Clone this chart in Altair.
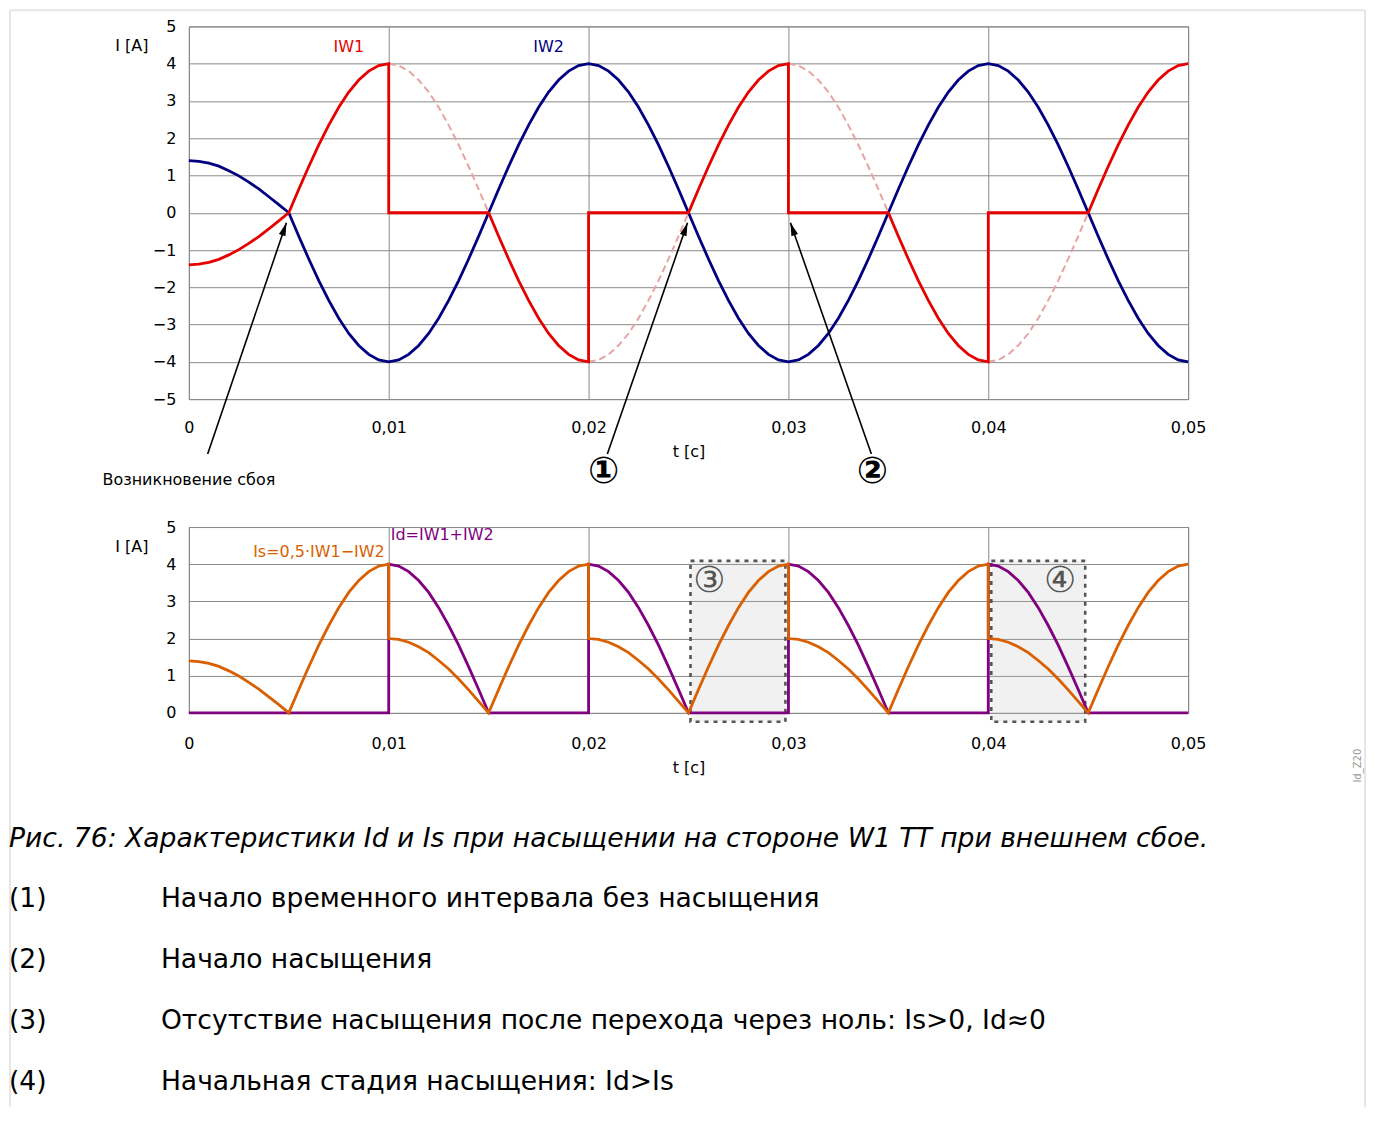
import math
import altair as alt
import pandas as pd

FONT = "DejaVu Sans"

# ---------------- data ----------------
T = [0.0000, 0.0005, 0.0010, 0.0015, 0.0020, 0.0025, 0.0030, 0.0035, 0.0040, 0.0045,
     0.0050, 0.0055, 0.0060, 0.0065, 0.0070, 0.0075, 0.0080, 0.0085, 0.0090, 0.0095,
     0.0100, 0.0105, 0.0110, 0.0115, 0.0120, 0.0125, 0.0130, 0.0135, 0.0140, 0.0145,
     0.0150, 0.0155, 0.0160, 0.0165, 0.0170, 0.0175, 0.0180, 0.0185, 0.0190, 0.0195,
     0.0200, 0.0205, 0.0210, 0.0215, 0.0220, 0.0225, 0.0230, 0.0235, 0.0240, 0.0245,
     0.0250, 0.0255, 0.0260, 0.0265, 0.0270, 0.0275, 0.0280, 0.0285, 0.0290, 0.0295,
     0.0300, 0.0305, 0.0310, 0.0315, 0.0320, 0.0325, 0.0330, 0.0335, 0.0340, 0.0345,
     0.0350, 0.0355, 0.0360, 0.0365, 0.0370, 0.0375, 0.0380, 0.0385, 0.0390, 0.0395,
     0.0400, 0.0405, 0.0410, 0.0415, 0.0420, 0.0425, 0.0430, 0.0435, 0.0440, 0.0445,
     0.0450, 0.0455, 0.0460, 0.0465, 0.0470, 0.0475, 0.0480, 0.0485, 0.0490, 0.0495,
     0.0500]

IW2 = [1.40, 1.38, 1.33, 1.25, 1.13, 0.99, 0.82, 0.64, 0.43, 0.22,
       0.00, -0.63, -1.24, -1.82, -2.35, -2.83, -3.24, -3.56, -3.80, -3.95,
       -4.00, -3.95, -3.80, -3.56, -3.24, -2.83, -2.35, -1.82, -1.24, -0.63,
       0.00, 0.63, 1.24, 1.82, 2.35, 2.83, 3.24, 3.56, 3.80, 3.95,
       4.00, 3.95, 3.80, 3.56, 3.24, 2.83, 2.35, 1.82, 1.24, 0.63,
       0.00, -0.63, -1.24, -1.82, -2.35, -2.83, -3.24, -3.56, -3.80, -3.95,
       -4.00, -3.95, -3.80, -3.56, -3.24, -2.83, -2.35, -1.82, -1.24, -0.63,
       0.00, 0.63, 1.24, 1.82, 2.35, 2.83, 3.24, 3.56, 3.80, 3.95,
       4.00, 3.95, 3.80, 3.56, 3.24, 2.83, 2.35, 1.82, 1.24, 0.63,
       0.00, -0.63, -1.24, -1.82, -2.35, -2.83, -3.24, -3.56, -3.80, -3.95,
       -4.00]

IW1_T = [0.0000, 0.0005, 0.0010, 0.0015, 0.0020, 0.0025, 0.0030, 0.0035, 0.0040, 0.0045,
         0.0050, 0.0055, 0.0060, 0.0065, 0.0070, 0.0075, 0.0080, 0.0085, 0.0090, 0.0095,
         0.0100, 0.0100,
         0.0150, 0.0155, 0.0160, 0.0165, 0.0170, 0.0175, 0.0180, 0.0185, 0.0190, 0.0195,
         0.0200, 0.0200,
         0.0250, 0.0255, 0.0260, 0.0265, 0.0270, 0.0275, 0.0280, 0.0285, 0.0290, 0.0295,
         0.0300, 0.0300,
         0.0350, 0.0355, 0.0360, 0.0365, 0.0370, 0.0375, 0.0380, 0.0385, 0.0390, 0.0395,
         0.0400, 0.0400,
         0.0450, 0.0455, 0.0460, 0.0465, 0.0470, 0.0475, 0.0480, 0.0485, 0.0490, 0.0495,
         0.0500]
IW1 = [-1.40, -1.38, -1.33, -1.25, -1.13, -0.99, -0.82, -0.64, -0.43, -0.22,
       0.00, 0.63, 1.24, 1.82, 2.35, 2.83, 3.24, 3.56, 3.80, 3.95,
       4.00, 0.00,
       0.00, -0.63, -1.24, -1.82, -2.35, -2.83, -3.24, -3.56, -3.80, -3.95,
       -4.00, 0.00,
       0.00, 0.63, 1.24, 1.82, 2.35, 2.83, 3.24, 3.56, 3.80, 3.95,
       4.00, 0.00,
       0.00, -0.63, -1.24, -1.82, -2.35, -2.83, -3.24, -3.56, -3.80, -3.95,
       -4.00, 0.00,
       0.00, 0.63, 1.24, 1.82, 2.35, 2.83, 3.24, 3.56, 3.80, 3.95,
       4.00]

# undistorted IW1 (dashed) during the saturated intervals
REF_T = [0.0100, 0.0105, 0.0110, 0.0115, 0.0120, 0.0125, 0.0130, 0.0135, 0.0140, 0.0145, 0.0150,
         0.0200, 0.0205, 0.0210, 0.0215, 0.0220, 0.0225, 0.0230, 0.0235, 0.0240, 0.0245, 0.0250,
         0.0300, 0.0305, 0.0310, 0.0315, 0.0320, 0.0325, 0.0330, 0.0335, 0.0340, 0.0345, 0.0350,
         0.0400, 0.0405, 0.0410, 0.0415, 0.0420, 0.0425, 0.0430, 0.0435, 0.0440, 0.0445, 0.0450]
REF = [4.00, 3.95, 3.80, 3.56, 3.24, 2.83, 2.35, 1.82, 1.24, 0.63, 0.00,
       -4.00, -3.95, -3.80, -3.56, -3.24, -2.83, -2.35, -1.82, -1.24, -0.63, 0.00,
       4.00, 3.95, 3.80, 3.56, 3.24, 2.83, 2.35, 1.82, 1.24, 0.63, 0.00,
       -4.00, -3.95, -3.80, -3.56, -3.24, -2.83, -2.35, -1.82, -1.24, -0.63, 0.00]
REF_SEG = ["a"] * 11 + ["b"] * 11 + ["c"] * 11 + ["d"] * 11

IS_T = [0.0000, 0.0005, 0.0010, 0.0015, 0.0020, 0.0025, 0.0030, 0.0035, 0.0040, 0.0045,
        0.0050, 0.0055, 0.0060, 0.0065, 0.0070, 0.0075, 0.0080, 0.0085, 0.0090, 0.0095,
        0.0100, 0.0100,
        0.0105, 0.0110, 0.0115, 0.0120, 0.0125, 0.0130, 0.0135, 0.0140, 0.0145, 0.0150,
        0.0155, 0.0160, 0.0165, 0.0170, 0.0175, 0.0180, 0.0185, 0.0190, 0.0195, 0.0200,
        0.0200,
        0.0205, 0.0210, 0.0215, 0.0220, 0.0225, 0.0230, 0.0235, 0.0240, 0.0245, 0.0250,
        0.0255, 0.0260, 0.0265, 0.0270, 0.0275, 0.0280, 0.0285, 0.0290, 0.0295, 0.0300,
        0.0300,
        0.0305, 0.0310, 0.0315, 0.0320, 0.0325, 0.0330, 0.0335, 0.0340, 0.0345, 0.0350,
        0.0355, 0.0360, 0.0365, 0.0370, 0.0375, 0.0380, 0.0385, 0.0390, 0.0395, 0.0400,
        0.0400,
        0.0405, 0.0410, 0.0415, 0.0420, 0.0425, 0.0430, 0.0435, 0.0440, 0.0445, 0.0450,
        0.0455, 0.0460, 0.0465, 0.0470, 0.0475, 0.0480, 0.0485, 0.0490, 0.0495, 0.0500]
IS = [1.40, 1.38, 1.33, 1.25, 1.13, 0.99, 0.82, 0.64, 0.43, 0.22,
      0.00, 0.63, 1.24, 1.82, 2.35, 2.83, 3.24, 3.56, 3.80, 3.95,
      4.00, 2.00,
      1.98, 1.90, 1.78, 1.62, 1.41, 1.18, 0.91, 0.62, 0.31, 0.00,
      0.63, 1.24, 1.82, 2.35, 2.83, 3.24, 3.56, 3.80, 3.95, 4.00,
      2.00,
      1.98, 1.90, 1.78, 1.62, 1.41, 1.18, 0.91, 0.62, 0.31, 0.00,
      0.63, 1.24, 1.82, 2.35, 2.83, 3.24, 3.56, 3.80, 3.95, 4.00,
      2.00,
      1.98, 1.90, 1.78, 1.62, 1.41, 1.18, 0.91, 0.62, 0.31, 0.00,
      0.63, 1.24, 1.82, 2.35, 2.83, 3.24, 3.56, 3.80, 3.95, 4.00,
      2.00,
      1.98, 1.90, 1.78, 1.62, 1.41, 1.18, 0.91, 0.62, 0.31, 0.00,
      0.63, 1.24, 1.82, 2.35, 2.83, 3.24, 3.56, 3.80, 3.95, 4.00]

ID_T = [0.0000, 0.0100,
        0.0100, 0.0105, 0.0110, 0.0115, 0.0120, 0.0125, 0.0130, 0.0135, 0.0140, 0.0145, 0.0150,
        0.0200,
        0.0200, 0.0205, 0.0210, 0.0215, 0.0220, 0.0225, 0.0230, 0.0235, 0.0240, 0.0245, 0.0250,
        0.0300,
        0.0300, 0.0305, 0.0310, 0.0315, 0.0320, 0.0325, 0.0330, 0.0335, 0.0340, 0.0345, 0.0350,
        0.0400,
        0.0400, 0.0405, 0.0410, 0.0415, 0.0420, 0.0425, 0.0430, 0.0435, 0.0440, 0.0445, 0.0450,
        0.0500]
ID = [0.00, 0.00,
      4.00, 3.95, 3.80, 3.56, 3.24, 2.83, 2.35, 1.82, 1.24, 0.63, 0.00,
      0.00,
      4.00, 3.95, 3.80, 3.56, 3.24, 2.83, 2.35, 1.82, 1.24, 0.63, 0.00,
      0.00,
      4.00, 3.95, 3.80, 3.56, 3.24, 2.83, 2.35, 1.82, 1.24, 0.63, 0.00,
      0.00,
      4.00, 3.95, 3.80, 3.56, 3.24, 2.83, 2.35, 1.82, 1.24, 0.63, 0.00,
      0.00]

X_TICKS = [0, 0.01, 0.02, 0.03, 0.04, 0.05]
Y_TICKS_TOP = [-5, -4, -3, -2, -1, 0, 1, 2, 3, 4, 5]
Y_TICKS_BOT = [0, 1, 2, 3, 4, 5]

# series labels
TOP_LABELS = ["IW1", "IW2"]
TOP_LABEL_T = [0.0080, 0.0180]
TOP_LABEL_I = [4.44, 4.44]
TOP_LABEL_COLORS = ["#e60000", "#000080"]

# annotation arrows (tail -> tip)
ARROW_T0 = [0.00094, 0.02094, 0.03415]
ARROW_I0 = [-6.47, -6.47, -6.47]
ARROW_T1 = [0.00488, 0.02495, 0.03010]
ARROW_I1 = [-0.27, -0.27, -0.27]

ANNOT_TEXT = ["Возникновение сбоя"]
ANNOT_T = [0.0000]
ANNOT_I = [-7.17]

MARKS_TOP = ["①", "②"]
MARKS_TOP_T = [0.02075, 0.03420]
MARKS_TOP_I = [-6.96, -6.96]

# bottom panel
BOX_T1 = [0.02510, 0.04015]
BOX_T2 = [0.02985, 0.04485]
BOX_I1 = [-0.24, -0.24]
BOX_I2 = [4.09, 4.09]
BOX_LABELS = ["③", "④"]
BOX_LABEL_T = [0.02605, 0.04360]
BOX_LABEL_I = [3.55, 3.55]

BOT_LABELS = ["Id=IW1+IW2", "Is=0,5·IW1−IW2"]
BOT_LABEL_T = [0.0101, 0.0098]
BOT_LABEL_I = [4.79, 4.33]
BOT_LABEL_COLORS = ["#800080", "#d95f00"]

SIDE_TEXT = ["Id_Z20"]

CAPTION = "Рис. 76: Характеристики Id и Is при насыщении на стороне W1 TT при внешнем сбое."
NOTE_KEYS = ["(1)", "(2)", "(3)", "(4)"]
NOTE_TEXTS = ["Начало временного интервала без насыщения",
              "Начало насыщения",
              "Отсутствие насыщения после перехода через ноль: Is>0, Id≈0",
              "Начальная стадия насыщения: Id>Is"]

# page frame (light border)
FRAME_T = [-0.00895, 0.05885]
FRAME_I_TOP = 5.43
FRAME_I_BOT = -24.0

# ---------------- layout ----------------
W = 1000
H_TOP = 373
H_BOT = 186
H_CAP = 260
PX_T = W / 0.05
PX_I = H_TOP / 10.0
GRID = "#8a8a8a"
FS = 16
LW = 2.8

label_expr = "datum.value == 0 ? '0' : replace(format(datum.value, '.2f'), '.', ',')"


def x_axis(label_pad, title_pad):
    return alt.Axis(values=X_TICKS, labelExpr=label_expr, title="t [c]", grid=True,
                    gridColor=GRID, gridWidth=1, ticks=False, domain=False, labelFlush=False,
                    labelPadding=label_pad, titlePadding=title_pad, labelFontSize=FS,
                    titleFontSize=FS, titleFontWeight="normal", labelColor="#000",
                    titleColor="#000", labelFont=FONT, titleFont=FONT)


X_AXIS_TOP = x_axis(20, 8)
X_AXIS_BOT = x_axis(23, 8)


def y_axis(values):
    return alt.Axis(values=values, title="I [A]", titleAngle=0, titleAlign="right",
                    titleBaseline="middle", titleX=-41, titleY=19, grid=True,
                    gridColor=GRID, gridWidth=1, ticks=False, domain=False,
                    labelPadding=13, labelFontSize=FS, titleFontSize=FS,
                    titleFontWeight="normal", labelColor="#000", titleColor="#000",
                    labelFont=FONT, titleFont=FONT)


def xt(field="t"):
    return alt.X(f"{field}:Q", scale=alt.Scale(domain=[0, 0.05], nice=False, zero=False),
                 axis=X_AXIS_TOP)


def xb(field="t"):
    return alt.X(f"{field}:Q", scale=alt.Scale(domain=[0, 0.05], nice=False, zero=False),
                 axis=X_AXIS_BOT)


def ye_top(field="v"):
    return alt.Y(f"{field}:Q", scale=alt.Scale(domain=[-5, 5], nice=False, zero=False),
                 axis=y_axis(Y_TICKS_TOP))


def ye_bot(field="v"):
    return alt.Y(f"{field}:Q", scale=alt.Scale(domain=[0, 5], nice=False, zero=False),
                 axis=y_axis(Y_TICKS_BOT))


# ---------------- top panel ----------------
df_iw2 = pd.DataFrame({"t": T, "v": IW2, "i": list(range(len(T)))})
df_iw1 = pd.DataFrame({"t": IW1_T, "v": IW1, "i": list(range(len(IW1_T)))})
df_ref = pd.DataFrame({"t": REF_T, "v": REF, "seg": REF_SEG, "i": list(range(len(REF_T)))})

iw2_line = alt.Chart(df_iw2).mark_line(color="#000080", strokeWidth=LW).encode(
    x=xt(), y=ye_top(), order="i:Q")
ref_line = alt.Chart(df_ref).mark_line(color="#e8a3a3", strokeWidth=2, strokeDash=[7, 4]).encode(
    x=xt(), y=ye_top(), detail="seg:N", order="i:Q")
iw1_line = alt.Chart(df_iw1).mark_line(color="#e60000", strokeWidth=LW).encode(
    x=xt(), y=ye_top(), order="i:Q")

df_toplab = pd.DataFrame({"t": TOP_LABEL_T, "v": TOP_LABEL_I, "txt": TOP_LABELS,
                          "c": TOP_LABEL_COLORS})
top_labels = alt.Chart(df_toplab).mark_text(font=FONT, fontSize=FS, align="center",
                                            baseline="middle").encode(
    x=xt(), y=ye_top(), text="txt:N", color=alt.Color("c:N", scale=None))

angles = []
for a0, b0, a1, b1 in zip(ARROW_T0, ARROW_I0, ARROW_T1, ARROW_I1):
    ang = math.degrees(math.atan2((a1 - a0) * PX_T, (b1 - b0) * PX_I))
    angles.append(ang % 360)
df_arrow = pd.DataFrame({"t": ARROW_T0, "v": ARROW_I0, "t2": ARROW_T1, "v2": ARROW_I1,
                         "ang": angles})
arrow_lines = alt.Chart(df_arrow).mark_rule(color="#000", strokeWidth=1.6).encode(
    x=xt(), y=ye_top(), x2="t2:Q", y2="v2:Q")
ARROW_HEAD = "M0,0L-0.7,2.6L0.7,2.6Z"
arrow_heads = alt.Chart(df_arrow).mark_point(shape=ARROW_HEAD, filled=True, color="#000",
                                             size=100, opacity=1, strokeWidth=0).encode(
    x=xt("t2"), y=ye_top("v2"), angle=alt.Angle("ang:Q", scale=None))

df_annot = pd.DataFrame({"t": ANNOT_T, "v": ANNOT_I, "txt": ANNOT_TEXT})
annot = alt.Chart(df_annot).mark_text(font=FONT, fontSize=FS, color="#000", align="center",
                                      baseline="middle").encode(
    x=xt(), y=ye_top(), text="txt:N")

df_mk = pd.DataFrame({"t": MARKS_TOP_T, "v": MARKS_TOP_I, "txt": MARKS_TOP})
marks_top = alt.Chart(df_mk).mark_text(font=FONT, fontSize=37, fontWeight="bold", color="#000",
                                       align="center", baseline="middle").encode(
    x=xt(), y=ye_top(), text="txt:N")

# light frame around the figure
df_frame_v = pd.DataFrame({"t": FRAME_T, "v": [FRAME_I_TOP, FRAME_I_TOP],
                           "v2": [FRAME_I_BOT, FRAME_I_BOT]})
frame_v = alt.Chart(df_frame_v).mark_rule(color="#e6e6e6", strokeWidth=2).encode(
    x=xt(), y=ye_top(), y2="v2:Q")
df_frame_h = pd.DataFrame({"t": [FRAME_T[0]], "t2": [FRAME_T[1]], "v": [FRAME_I_TOP]})
frame_h = alt.Chart(df_frame_h).mark_rule(color="#e6e6e6", strokeWidth=2).encode(
    x=xt(), x2="t2:Q", y=ye_top())

top = alt.layer(frame_v, frame_h, ref_line, iw2_line, iw1_line, top_labels, arrow_lines,
                arrow_heads, annot, marks_top).properties(width=W, height=H_TOP)

# ---------------- bottom panel ----------------
df_is = pd.DataFrame({"t": IS_T, "v": IS, "i": list(range(len(IS_T)))})
df_id = pd.DataFrame({"t": ID_T, "v": ID, "i": list(range(len(ID_T)))})
df_box = pd.DataFrame({"t": BOX_T1, "t2": BOX_T2, "v": BOX_I1, "v2": BOX_I2})

boxes = alt.Chart(df_box).mark_rect(fill="#b8b8b8", fillOpacity=0.2, stroke="#555555",
                                    strokeWidth=2.6, strokeDash=[4, 5]).encode(
    x=xb(), x2="t2:Q", y=ye_bot(), y2="v2:Q")
id_line = alt.Chart(df_id).mark_line(color="#800080", strokeWidth=LW).encode(
    x=xb(), y=ye_bot(), order="i:Q")
is_line = alt.Chart(df_is).mark_line(color="#d95f00", strokeWidth=LW).encode(
    x=xb(), y=ye_bot(), order="i:Q")

df_lab_l = pd.DataFrame({"t": [BOT_LABEL_T[0]], "v": [BOT_LABEL_I[0]], "txt": [BOT_LABELS[0]],
                         "c": [BOT_LABEL_COLORS[0]]})
df_lab_r = pd.DataFrame({"t": [BOT_LABEL_T[1]], "v": [BOT_LABEL_I[1]], "txt": [BOT_LABELS[1]],
                         "c": [BOT_LABEL_COLORS[1]]})
bot_lab_left = alt.Chart(df_lab_l).mark_text(font=FONT, fontSize=FS, align="left",
                                             baseline="middle").encode(
    x=xb(), y=ye_bot(), text="txt:N", color=alt.Color("c:N", scale=None))
bot_lab_right = alt.Chart(df_lab_r).mark_text(font=FONT, fontSize=FS, align="right",
                                              baseline="middle").encode(
    x=xb(), y=ye_bot(), text="txt:N", color=alt.Color("c:N", scale=None))

df_boxlab = pd.DataFrame({"t": BOX_LABEL_T, "v": BOX_LABEL_I, "txt": BOX_LABELS})
box_labels = alt.Chart(df_boxlab).mark_text(font=FONT, fontSize=36, color="#555555",
                                            align="center", baseline="middle").encode(
    x=xb(), y=ye_bot(), text="txt:N")

df_side = pd.DataFrame({"t": [0.0585], "v": [-1.42], "txt": SIDE_TEXT})
side = alt.Chart(df_side).mark_text(font=FONT, fontSize=10, color="#9a9a9a", angle=270,
                                    align="center", baseline="middle").encode(
    x=xb(), y=ye_bot(), text="txt:N")

bottom = alt.layer(boxes, id_line, is_line, bot_lab_left, bot_lab_right, box_labels,
                   side).properties(width=W, height=H_BOT)

# ---------------- caption ----------------
ycap = alt.Y("row:Q", scale=alt.Scale(domain=[0.0329, 4.3127], reverse=True, nice=False,
                                      zero=False), axis=None)
df_cap = pd.DataFrame({"row": [0], "txt": [CAPTION]})
df_keys = pd.DataFrame({"row": [1, 2, 3, 4], "txt": NOTE_KEYS})
df_notes = pd.DataFrame({"row": [1, 2, 3, 4], "txt": NOTE_TEXTS})

CFS = 26.6
cap_title = alt.Chart(df_cap).mark_text(font=FONT, fontSize=CFS, fontStyle="italic",
                                        color="#000", align="left", baseline="middle").encode(
    x=alt.value(-180), y=ycap, text="txt:N")
cap_keys = alt.Chart(df_keys).mark_text(font=FONT, fontSize=CFS, color="#000", align="left",
                                        baseline="middle").encode(
    x=alt.value(-180), y=ycap, text="txt:N")
cap_notes = alt.Chart(df_notes).mark_text(font=FONT, fontSize=CFS, color="#000", align="left",
                                          baseline="middle").encode(
    x=alt.value(-28), y=ycap, text="txt:N")

caption = alt.layer(cap_title, cap_keys, cap_notes).properties(
    width=W, height=H_CAP, view=alt.ViewBackground(stroke="transparent"))

chart = alt.vconcat(top, bottom, caption, spacing=128, bounds="flush", padding=0).resolve_scale(
    x="independent", y="independent").configure(font=FONT).configure_view(
    stroke="#808080", strokeWidth=1)

chart.save("out.html", embed_options={"renderer": "svg", "actions": False})
